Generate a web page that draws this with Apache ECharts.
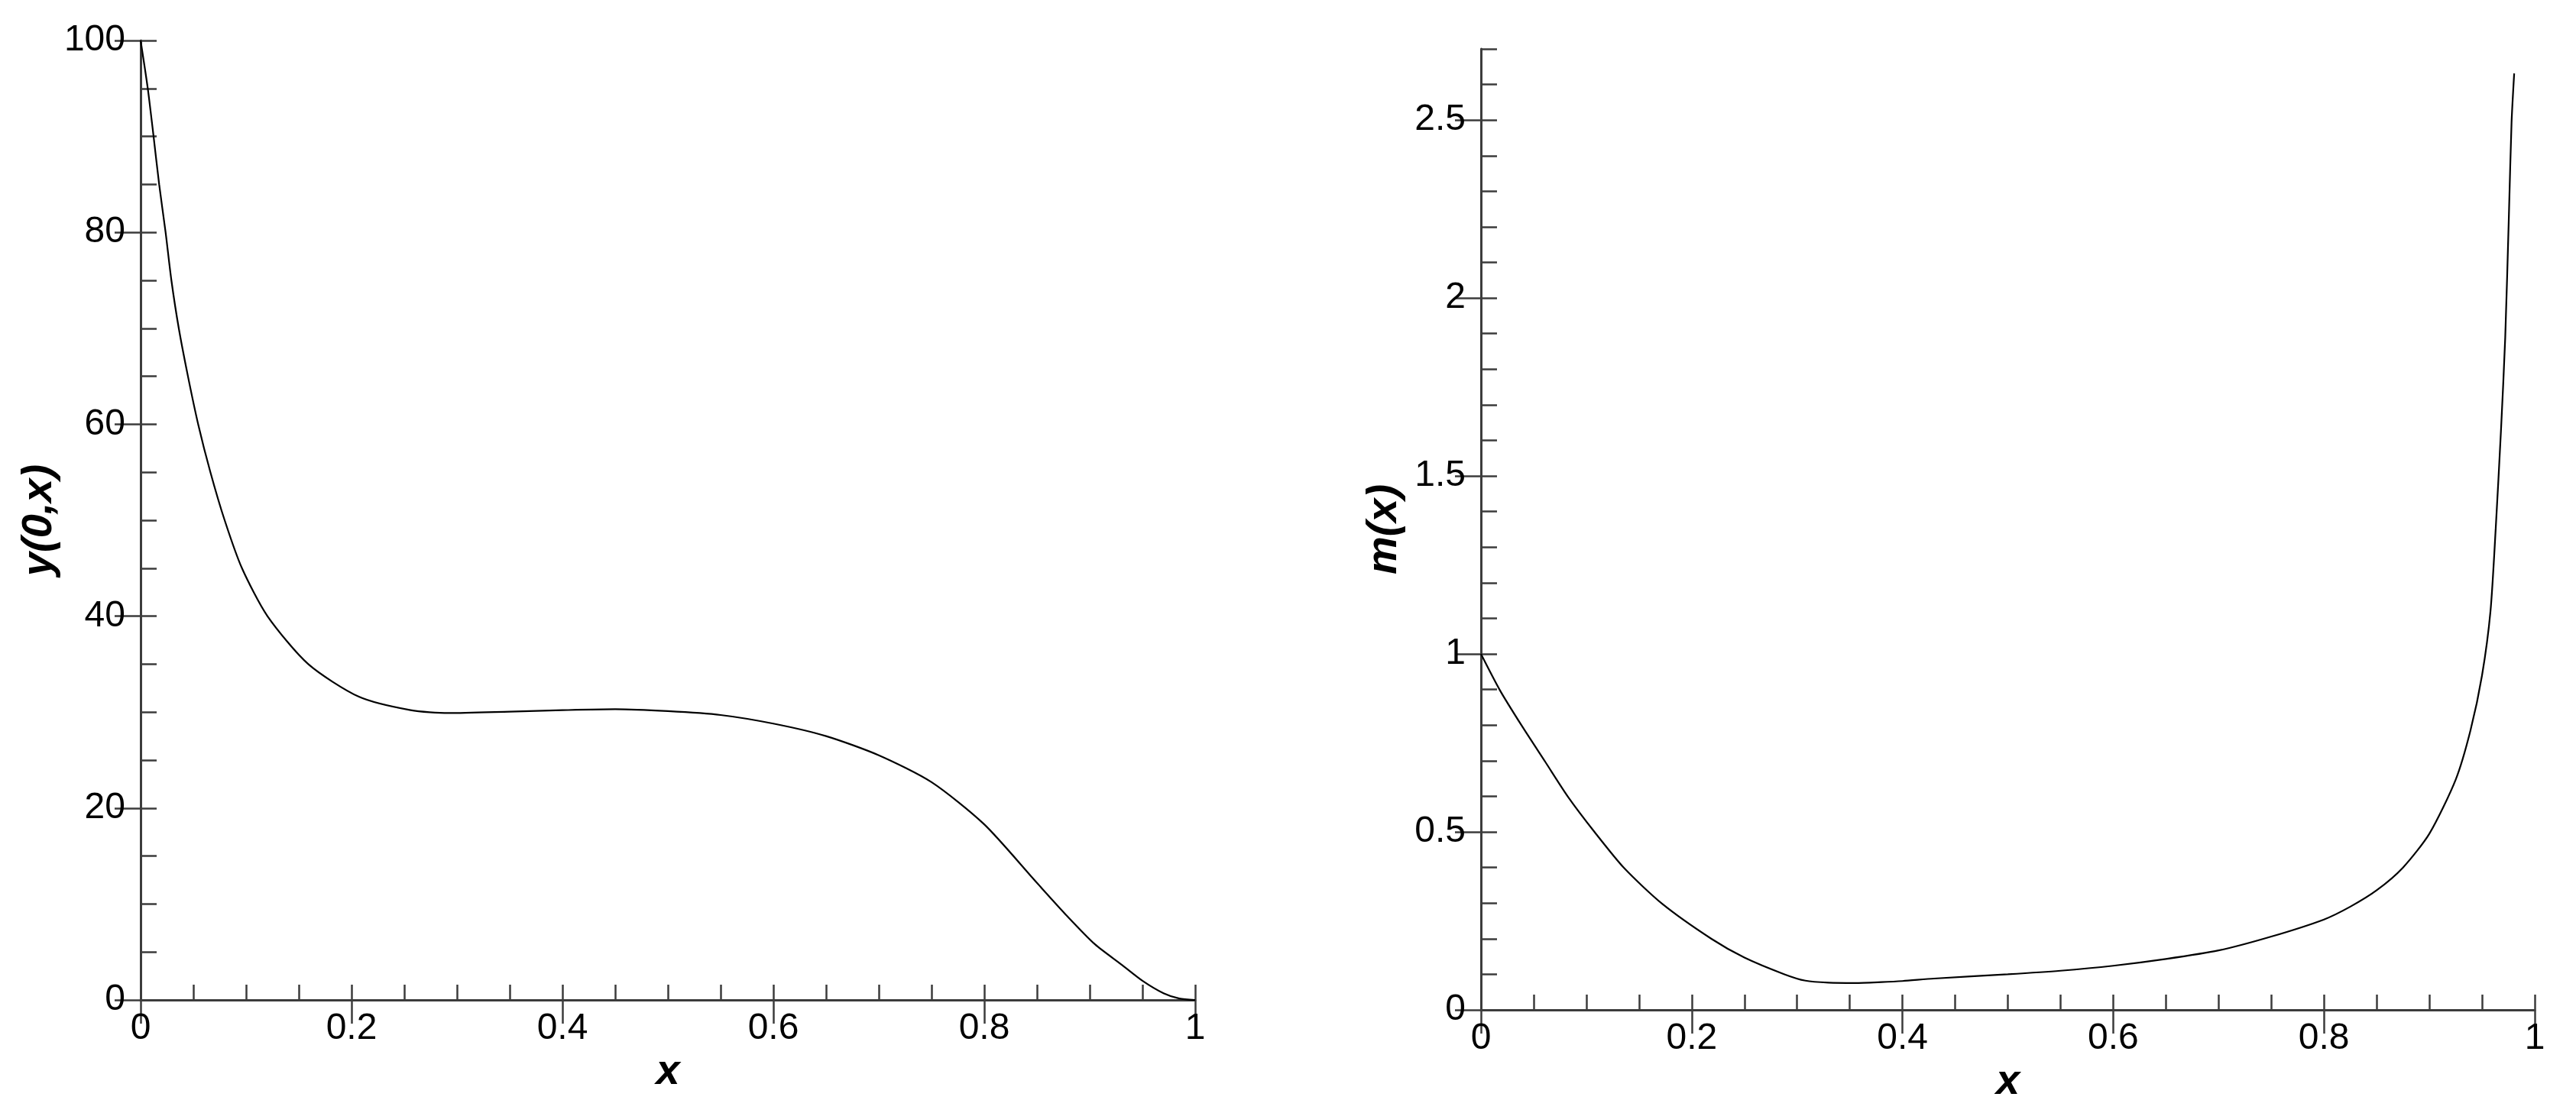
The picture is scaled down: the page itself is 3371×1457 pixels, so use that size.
<!DOCTYPE html>
<html>
<head>
<meta charset="utf-8">
<script src="https://cdn.jsdelivr.net/npm/echarts@6/dist/echarts.min.js"></script>
<style>
  html, body { margin: 0; padding: 0; background: #fff; }
  #chart { width: 3371px; height: 1457px; }
</style>
</head>
<body>
<div id="chart"></div>
<script>
// left panel: y(0,x)
const xLeft = [0, 0.0068, 0.0123, 0.0176, 0.0237, 0.0292, 0.0362, 0.0449, 0.0546, 0.0662, 0.0797, 0.0961, 0.1203,
    0.159, 0.207, 0.256, 0.292, 0.35, 0.4, 0.45, 0.5, 0.55, 0.6, 0.65, 0.7, 0.75, 0.8, 0.85, 0.879, 0.905, 0.93, 0.95, 0.97, 0.985, 1.0];
const yLeft = [100, 95, 90, 85, 80, 75, 70, 65, 60, 55, 50, 45, 40,
    35, 31.6, 30.2, 29.9, 30.05, 30.2, 30.3, 30.1, 29.7, 28.8, 27.5, 25.5, 22.7, 18.3, 12.2, 8.7, 5.8, 3.7, 2.0, 0.7, 0.15, 0];

// right panel: m(x)
const xRight = [0, 0.018, 0.0388, 0.061, 0.083, 0.108, 0.136, 0.172, 0.219, 0.25, 0.288, 0.308, 0.33, 0.355, 0.38, 0.4,
    0.43, 0.5, 0.55, 0.6, 0.65, 0.7, 0.75, 0.8, 0.825, 0.85, 0.875, 0.9, 0.925, 0.939, 0.95, 0.958, 0.963,
    0.968, 0.972, 0.9755, 0.978, 0.9805];
const yRight = [1.0, 0.898, 0.798, 0.697, 0.597, 0.499, 0.398, 0.298, 0.199, 0.147, 0.1, 0.082, 0.0765, 0.0755, 0.078, 0.081,
    0.088, 0.1, 0.11, 0.124, 0.143, 0.167, 0.206, 0.254, 0.29, 0.336, 0.40, 0.495, 0.647, 0.785, 0.94, 1.12, 1.354,
    1.63, 1.889, 2.234, 2.493, 2.631];

const xTicks = [0, 0.2, 0.4, 0.6, 0.8, 1];
const yLeftTicks = [0, 20, 40, 60, 80, 100];
const yRightTicks = [0, 0.5, 1, 1.5, 2, 2.5];

const FONT = 'Liberation Sans, Arial, sans-serif';
const AXIS_COLOR = '#3c3c3c';

function toPairs(xs, ys) {
    return xs.map((v, i) => [v, ys[i]]);
}

function onTick(list) {
    return v => list.some(t => Math.abs(t - v) < 1e-6) ? String(+v.toFixed(2)) : '';
}

const axisLineStyle = { show: true, lineStyle: { color: AXIS_COLOR, width: 3 } };
const labelStyle = { color: '#000', fontSize: 48, fontFamily: FONT };
const nameStyle = { color: '#000', fontSize: 56, fontWeight: 'bold', fontStyle: 'italic', fontFamily: FONT };

const chart = echarts.init(document.getElementById('chart'), null, { renderer: 'canvas' });

const option = {
    backgroundColor: '#fff',
    animation: false,
    grid: [
        { left: 184, top: 53, width: 1380, height: 1256, outerBoundsMode: 'none' },
        { left: 1938, top: 64, width: 1379, height: 1258, outerBoundsMode: 'none' }
    ],
    xAxis: [
        {
            gridIndex: 0, type: 'value', min: 0, max: 1, interval: 0.05,
            name: 'x', nameLocation: 'middle', nameGap: 62, nameTextStyle: nameStyle,
            axisLine: axisLineStyle,
            axisTick: { inside: true, length: 20, lineStyle: { color: AXIS_COLOR, width: 2.5 } },
            axisLabel: Object.assign({ margin: 14, formatter: onTick(xTicks), showMinLabel: true, showMaxLabel: true }, labelStyle),
            splitLine: { show: false }
        },
        {
            gridIndex: 0, type: 'value', min: 0, max: 1, interval: 0.2,
            axisLine: { show: false },
            axisTick: { inside: true, length: 31, lineStyle: { color: AXIS_COLOR, width: 2.5 } },
            axisLabel: { show: false },
            splitLine: { show: false }
        },
        {
            gridIndex: 1, type: 'value', min: 0, max: 1, interval: 0.05,
            name: 'x', nameLocation: 'middle', nameGap: 62, nameTextStyle: nameStyle,
            axisLine: axisLineStyle,
            axisTick: { inside: true, length: 20, lineStyle: { color: AXIS_COLOR, width: 2.5 } },
            axisLabel: Object.assign({ margin: 14, formatter: onTick(xTicks), showMinLabel: true, showMaxLabel: true }, labelStyle),
            splitLine: { show: false }
        },
        {
            gridIndex: 1, type: 'value', min: 0, max: 1, interval: 0.2,
            axisLine: { show: false },
            axisTick: { inside: true, length: 31, lineStyle: { color: AXIS_COLOR, width: 2.5 } },
            axisLabel: { show: false },
            splitLine: { show: false }
        }
    ],
    yAxis: [
        {
            gridIndex: 0, type: 'value', min: 0, max: 100, interval: 5,
            name: 'y(0,x)', nameLocation: 'middle', nameGap: 80, nameTextStyle: nameStyle,
            axisLine: axisLineStyle,
            axisTick: { inside: true, length: 21, lineStyle: { color: AXIS_COLOR, width: 2.5 } },
            axisLabel: Object.assign({ margin: 20, formatter: onTick(yLeftTicks), showMinLabel: true, showMaxLabel: true }, labelStyle),
            splitLine: { show: false }
        },
        {
            gridIndex: 0, type: 'value', min: 0, max: 100, interval: 20,
            axisLine: { show: false },
            axisTick: { inside: true, length: 34, lineStyle: { color: AXIS_COLOR, width: 2.5 } },
            axisLabel: { show: false },
            splitLine: { show: false }
        },
        {
            gridIndex: 1, type: 'value', min: 0, max: 2.7, interval: 0.1,
            name: 'm(x)', nameLocation: 'middle', nameGap: 98, nameTextStyle: nameStyle,
            axisLine: axisLineStyle,
            axisTick: { inside: true, length: 21, lineStyle: { color: AXIS_COLOR, width: 2.5 } },
            axisLabel: Object.assign({ margin: 20, formatter: onTick(yRightTicks), showMinLabel: true, showMaxLabel: true }, labelStyle),
            splitLine: { show: false }
        },
        {
            gridIndex: 1, type: 'value', min: 0, max: 2.7,
            axisLine: { show: false },
            axisTick: { inside: true, length: 34, customValues: yRightTicks, lineStyle: { color: AXIS_COLOR, width: 2.5 } },
            axisLabel: { show: false },
            splitLine: { show: false }
        }
    ],
    series: [
        {
            type: 'line', xAxisIndex: 0, yAxisIndex: 0,
            data: toPairs(xLeft, yLeft),
            smooth: 0.25, showSymbol: false,
            lineStyle: { color: '#000', width: 2.2 }
        },
        {
            type: 'line', xAxisIndex: 2, yAxisIndex: 2,
            data: toPairs(xRight, yRight),
            smooth: 0.25, showSymbol: false,
            lineStyle: { color: '#000', width: 2.2 }
        }
    ]
};

chart.setOption(option);
</script>
</body>
</html>
